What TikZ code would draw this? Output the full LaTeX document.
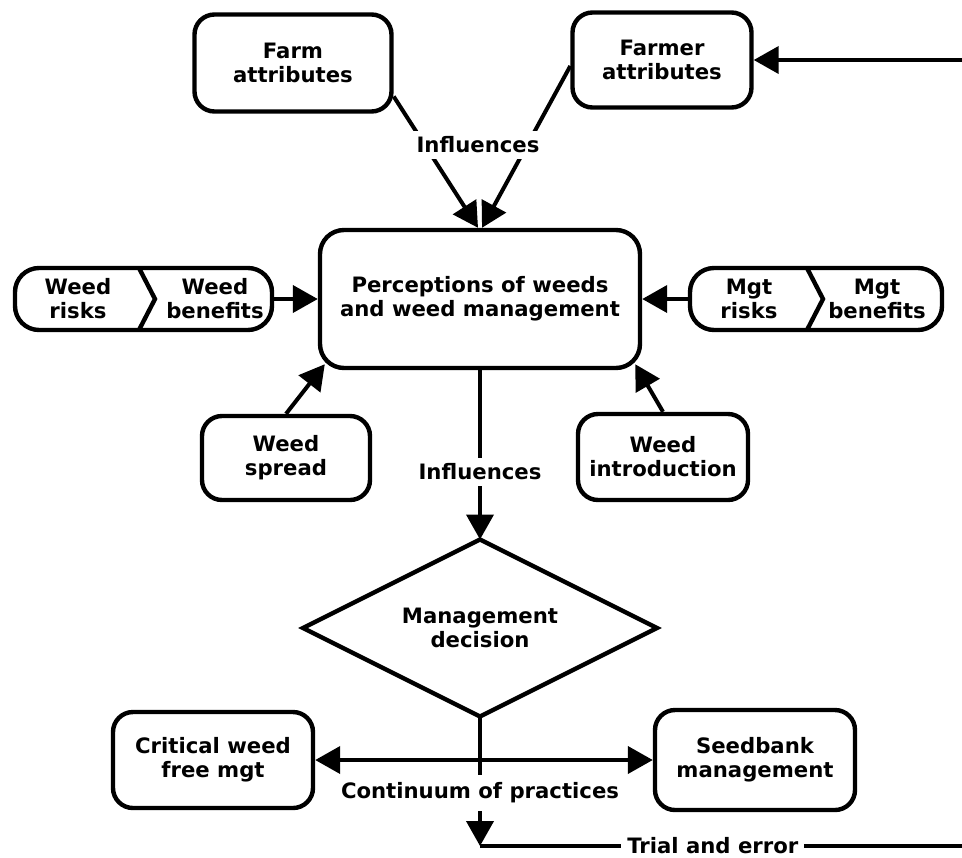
\documentclass[tikz,border=0pt]{standalone}
\usepackage{fontspec}
\setmainfont{DejaVu Sans}
\usetikzlibrary{shapes.geometric,arrows.meta,positioning,calc}
\newcommand{\fnt}{\fontsize{10.6}{12}\selectfont\bfseries}
\tikzstyle{box}=[rectangle,draw,line width=2.2pt,rounded corners=10pt,align=center,font=\fnt]
\tikzstyle{pill}=[rectangle,draw,line width=2.2pt,rounded corners=12pt,minimum width=128.5pt,minimum height=31pt]
\tikzstyle{txt}=[align=center,font=\fnt,inner sep=0pt]
\tikzstyle{lbl}=[fill=white,font=\fnt,inner sep=3pt]
\tikzstyle{dec}=[diamond,draw,line width=2.2pt,aspect=2,align=center,font=\fnt,inner sep=0pt,outer sep=0pt,minimum width=177pt,minimum height=88.5pt]
\tikzstyle{arr}=[-{Triangle[length=12.5pt,width=13.5pt]},line width=2pt]
\tikzstyle{arrtwo}=[{Triangle[length=12.5pt,width=13.5pt]}-{Triangle[length=12.5pt,width=13.5pt]},line width=2pt]
\tikzstyle{ln}=[line width=2pt]

\begin{document}
\begin{tikzpicture}[x=0.5pt,y=-0.5pt]
\useasboundingbox (0,0) rectangle (962,857);
% top row
\node[box,minimum width=98.5pt,minimum height=48.5pt] (farm) at (293,63) {Farm\\attributes};
\node[box,minimum width=89.5pt,minimum height=47.5pt] (farmer) at (662,60) {Farmer\\attributes};
\node[box,rounded corners=12pt,minimum width=160pt,minimum height=69pt] (perc) at (480,299) {Perceptions of weeds\\and weed management};
% risk / benefit pills
\node[pill] (wpill) at (143.5,299) {};
\draw[ln,line width=2.2pt] (139,268) -- (155,299) -- (139,330);
\node[txt] (wrisk) at (78,299) {Weed\\risks};
\node[txt] (wben) at (215,299) {Weed\\benefits};
\node[pill,minimum width=126pt] (mpill) at (816,299) {};
\draw[ln,line width=2.2pt] (807,268) -- (823,299) -- (807,330);
\node[txt] (mrisk) at (749,299) {Mgt\\risks};
\node[txt] (mben) at (877,299) {Mgt\\benefits};
% spread and introduction
\node[box,minimum width=84pt,minimum height=42pt] (spread) at (286,458) {Weed\\spread};
\node[box,minimum width=85pt,minimum height=43pt] (intro) at (663,457) {Weed\\introduction};
% decision and practices
\node[dec] (decide) at (480,628) {Management\\decision};
\node[box,minimum width=100pt,minimum height=48pt] (crit) at (213,760) {Critical weed\\free mgt};
\node[box,minimum width=100pt,minimum height=50pt] (seed) at (755,760) {Seedbank\\management};
\coordinate (fbin) at (962,60);
\coordinate (tb) at (480,846);
\coordinate (fbout) at (962,846);

\draw[arr] (fbin) -- (farmer);
\draw[arr] ($(farm.east)!0.66!(farm.south east)$) -- ([xshift=-1pt]perc.north);
\draw[arr] ([yshift=-3pt]farmer.west) -- ([xshift=1pt]perc.north);
\node[lbl] (infl1) at (478,145) {Influences};
\draw[arr] (wpill) -- (perc);
\draw[arr] (mpill) -- (perc);
\draw[arr] (spread.north) -- ($(perc.south west)+(7,-6)$);
\draw[arr] (intro.north) -- ($(perc.south east)+(-7,-6)$);
\draw[arr] (perc) -- node[lbl,pos=0.6] (infl2) {Influences} (decide);
\draw[arrtwo] (crit) -- (seed);
\draw[arr] (decide.south) -- node[lbl,pos=0.59,inner sep=4pt] (cont) {Continuum of practices} (tb);
\draw[ln] (tb) -- node[lbl,pos=0.483] (trial) {Trial and error} (fbout);
\end{tikzpicture}
\end{document}
